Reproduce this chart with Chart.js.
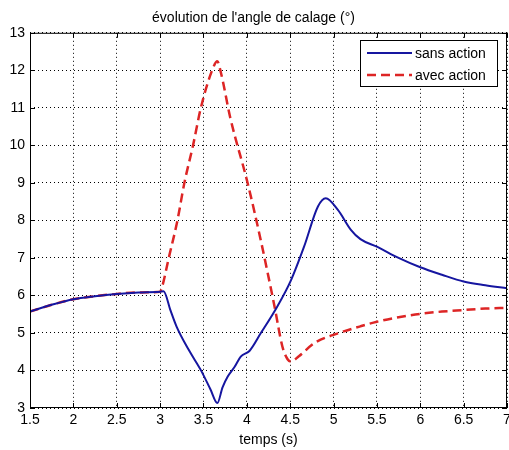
<!DOCTYPE html>
<html>
<head>
<meta charset="utf-8">
<script src="https://cdn.jsdelivr.net/npm/chart.js@4"></script>
<style>
  html, body { margin: 0; padding: 0; background: #fff; }
  #wrap { width: 509px; height: 450px; }
</style>
</head>
<body>
<div id="wrap"><canvas id="angleChart" width="509" height="450"></canvas></div>
<script>
// temps (s) et angle de calage (°)
const tSans = [1.5, 1.75, 2.0, 2.25, 2.5, 2.75, 3.0, 3.04, 3.12, 3.19, 3.33, 3.47, 3.58, 3.66, 3.72, 3.78, 3.86, 3.93, 4.03, 4.16, 4.35, 4.51, 4.66, 4.82, 4.91, 5.05, 5.2, 5.31, 5.5, 5.75, 6.0, 6.25, 6.5, 6.75, 7.0];
const sansAction = [5.57, 5.75, 5.9, 5.98, 6.04, 6.08, 6.1, 6.11, 5.6, 5.17, 4.55, 4.01, 3.5, 3.13, 3.55, 3.84, 4.1, 4.37, 4.52, 4.99, 5.7, 6.41, 7.3, 8.37, 8.59, 8.28, 7.75, 7.5, 7.3, 7.0, 6.75, 6.55, 6.37, 6.27, 6.19];

const tAvec = [1.5, 1.75, 2.0, 2.25, 2.5, 2.75, 3.0, 3.02, 3.10, 3.20, 3.28, 3.38, 3.47, 3.60, 3.66, 3.70, 3.81, 4.01, 4.16, 4.32, 4.41, 4.47, 4.51, 4.6, 4.78, 5.05, 5.3, 5.5, 5.75, 6.0, 6.25, 6.5, 6.75, 7.0];
const avecAction = [5.57, 5.75, 5.9, 5.98, 6.04, 6.08, 6.1, 6.2, 7.0, 8.0, 9.0, 10.0, 11.0, 12.0, 12.24, 11.95, 10.73, 8.99, 7.48, 5.7, 4.64, 4.3, 4.24, 4.38, 4.73, 4.99, 5.17, 5.3, 5.42, 5.51, 5.57, 5.61, 5.65, 5.67];

const xTicks = [1.5, 2, 2.5, 3, 3.5, 4, 4.5, 5, 5.5, 6, 6.5, 7];
const yTicks = [3, 4, 5, 6, 7, 8, 9, 10, 11, 12, 13];

const FONT = "'Liberation Sans', Arial, sans-serif";
const toPoints = (xs, ys) => xs.map((x, i) => ({ x: x, y: ys[i] }));

// cadre + graduations vers l'intérieur (style matlab) + légende dans la zone du graphe
const matlabFrame = {
  id: "matlabFrame",
  afterDraw(chart) {
    const { ctx, chartArea: a, scales } = chart;
    ctx.save();
    ctx.strokeStyle = "#000";
    ctx.lineWidth = 1;
    ctx.strokeRect(a.left + 0.5, a.top + 0.5, a.right - a.left - 1, a.bottom - a.top - 1);
    ctx.beginPath();
    xTicks.forEach(v => {
      const px = Math.round(scales.x.getPixelForValue(v)) + 0.5;
      ctx.moveTo(px, a.bottom); ctx.lineTo(px, a.bottom - 5);
      ctx.moveTo(px, a.top); ctx.lineTo(px, a.top + 5);
    });
    yTicks.forEach(v => {
      const py = Math.round(scales.y.getPixelForValue(v)) + 0.5;
      ctx.moveTo(a.left, py); ctx.lineTo(a.left + 5, py);
      ctx.moveTo(a.right, py); ctx.lineTo(a.right - 5, py);
    });
    ctx.stroke();

    // légende
    const bx = 360, by = 40, bw = 137, bh = 46;
    ctx.fillStyle = "#fff";
    ctx.fillRect(bx, by, bw, bh);
    ctx.strokeRect(bx + 0.5, by + 0.5, bw, bh);
    ctx.font = "14px " + FONT;
    ctx.textBaseline = "middle";
    chart.data.datasets.forEach((ds, i) => {
      const y = by + 13 + i * 22;
      ctx.strokeStyle = ds.borderColor;
      ctx.lineWidth = ds.borderWidth;
      ctx.setLineDash(ds.borderDash || []);
      ctx.beginPath();
      ctx.moveTo(bx + 7, y); ctx.lineTo(bx + 52, y);
      ctx.stroke();
      ctx.setLineDash([]);
      ctx.fillStyle = "#000";
      ctx.fillText(ds.label, bx + 55, y + 1);
    });
    ctx.restore();
  }
};

const ctx = document.getElementById("angleChart").getContext("2d");
new Chart(ctx, {
  type: "line",
  data: {
    datasets: [
      {
        label: "sans action",
        data: toPoints(tSans, sansAction),
        borderColor: "#1616a0",
        borderWidth: 2,
        pointRadius: 0,
        cubicInterpolationMode: "monotone"
      },
      {
        label: "avec action",
        data: toPoints(tAvec, avecAction),
        borderColor: "#dd2525",
        borderWidth: 2.5,
        borderDash: [9, 5],
        pointRadius: 0,
        cubicInterpolationMode: "monotone"
      }
    ]
  },
  options: {
    responsive: false,
    animation: false,
    layout: { padding: { left: 0, right: 2, top: 0, bottom: 0 } },
    plugins: {
      legend: { display: false },
      tooltip: { enabled: false },
      title: {
        display: true,
        text: "évolution de l'angle de calage (°)",
        color: "#000",
        font: { family: FONT, size: 14, weight: "normal" },
        padding: { top: 10, bottom: 6 }
      }
    },
    scales: {
      x: {
        type: "linear",
        min: 1.5,
        max: 7,
        afterBuildTicks: s => { s.ticks = xTicks.map(v => ({ value: v })); },
        afterFit: s => { s.height = 42; s.paddingLeft = 0; s.paddingRight = 0; },
        grid: { color: "#000", lineWidth: 1, drawTicks: false },
        border: { display: false, dash: [1, 3] },
        ticks: {
          color: "#000",
          padding: 4,
          maxRotation: 0,
          callback: v => String(v),
          font: { family: FONT, size: 14 }
        },
        title: {
          display: true,
          text: "temps (s)",
          color: "#000",
          padding: { top: 0, bottom: 1 },
          font: { family: FONT, size: 14 }
        }
      },
      y: {
        min: 3,
        max: 13,
        afterBuildTicks: s => { s.ticks = yTicks.map(v => ({ value: v })); },
        afterFit: s => { s.width = 30; s.paddingTop = 0; s.paddingBottom = 0; },
        grid: { color: "#000", lineWidth: 1, drawTicks: false },
        border: { display: false, dash: [1, 3] },
        ticks: {
          color: "#000",
          padding: 5,
          callback: v => String(v),
          font: { family: FONT, size: 14 }
        }
      }
    }
  },
  plugins: [matlabFrame]
});
</script>
</body>
</html>
